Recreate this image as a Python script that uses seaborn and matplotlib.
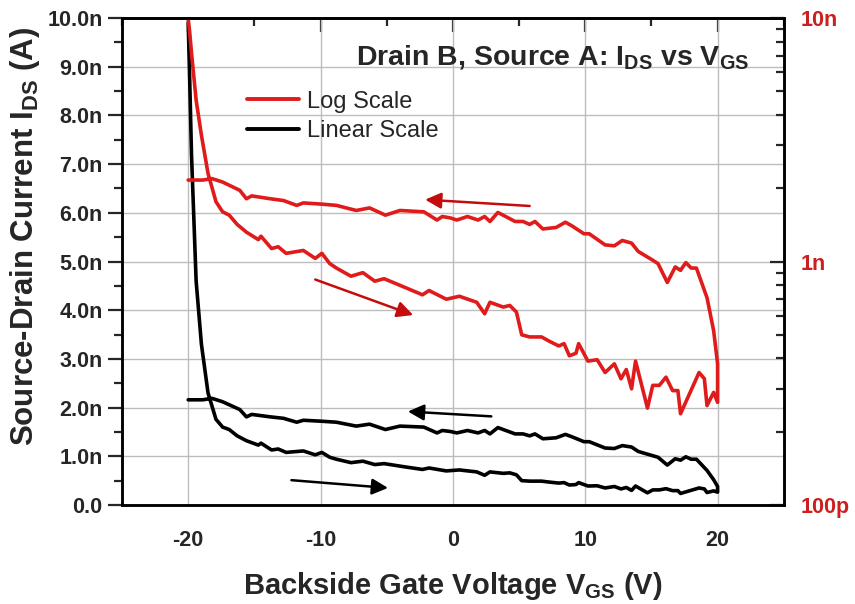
import numpy as np
import pandas as pd
import matplotlib
matplotlib.use("Agg")
import matplotlib.pyplot as plt
import matplotlib.ticker as mticker
import seaborn as sns

# ---------------- data (gate sweep -20 V -> +20 V -> -20 V), current in nA ----------------
v_forward = [-20.0, -19.9, -19.75, -19.4, -19.0, -18.5, -17.9, -17.4, -16.9, -16.3, -15.6,
             -14.7, -14.5, -13.7, -13.2, -12.6, -11.3, -10.4, -9.9, -9.3, -8.8, -7.7, -6.8,
             -5.9, -5.2, -3.8, -2.3, -1.8, -0.5, 0.5, 0.8, 1.8, 2.4, 2.8, 3.8, 4.3, 4.8, 5.2,
             5.8, 6.7, 7.3, 8.0, 8.4, 8.8, 9.3, 9.5, 10.2, 10.9, 11.5, 12.2, 12.7, 13.1, 13.5,
             13.8, 14.7, 15.1, 15.6, 16.1, 16.6, 17.0, 17.2, 18.6, 19.0, 19.2, 19.7, 20.0]
i_forward = [9.9, 8.9, 7.2, 4.6, 3.3, 2.3, 1.76, 1.60, 1.55, 1.42, 1.32,
             1.23, 1.27, 1.13, 1.15, 1.08, 1.11, 1.03, 1.08, 0.98, 0.94, 0.87, 0.90,
             0.83, 0.85, 0.79, 0.73, 0.76, 0.70, 0.72, 0.71, 0.68, 0.61, 0.68, 0.65, 0.66, 0.62, 0.50,
             0.49, 0.49, 0.47, 0.45, 0.46, 0.41, 0.42, 0.46, 0.39, 0.395, 0.35, 0.38, 0.33, 0.36, 0.30,
             0.39, 0.25, 0.31, 0.31, 0.335, 0.295, 0.295, 0.237, 0.35, 0.33, 0.256, 0.29, 0.264]
v_reverse = [20.0, 19.7, 19.2, 18.4, 18.0, 17.6, 17.2, 16.8, 16.2, 15.5, 15.0, 14.0, 13.5,
             12.8, 12.2, 11.5, 10.3, 9.9, 9.0, 8.5, 7.8, 6.8, 6.2, 5.8, 5.3, 4.7, 3.4, 2.8,
             2.4, 1.9, 1.1, 0.3, -0.2, -0.8, -1.2, -2.2, -4.0, -5.1, -6.3, -7.3, -8.8, -9.9,
             -11.3, -11.8, -12.8, -13.8, -15.2, -15.6, -16.1, -17.4, -18.2, -18.9, -20.0]
i_reverse = [0.38, 0.52, 0.71, 0.94, 0.94, 0.99, 0.92, 0.95, 0.82, 0.98, 1.02, 1.10, 1.19,
             1.22, 1.16, 1.17, 1.30, 1.30, 1.40, 1.45, 1.38, 1.36, 1.46, 1.42, 1.46, 1.46, 1.59, 1.46,
             1.53, 1.48, 1.53, 1.48, 1.51, 1.53, 1.48, 1.60, 1.62, 1.55, 1.66, 1.62, 1.70, 1.72,
             1.74, 1.70, 1.78, 1.81, 1.86, 1.81, 1.96, 2.12, 2.19, 2.16, 2.16]

series_labels = ["Log Scale", "Linear Scale"]
title_text = r"Drain B, Source A: I$_{\mathbf{DS}}$ vs V$_{\mathbf{GS}}$"
x_label = r"Backside Gate Voltage V$_{\mathbf{GS}}$ (V)"
y_label = r"Source-Drain Current I$_{\mathbf{DS}}$ (A)"
right_ticks = [1e-10, 1e-9, 1e-8]
right_tick_labels = ["100p", "1n", "10n"]

# sweep-direction arrows: (x_tail, y_tail_nA, x_head, y_head_nA, colour)
sweep_arrows = [(5.8, 6.14, -2.1, 6.27, "red"),
                (-10.4, 4.63, -3.0, 3.90, "red"),
                (2.9, 1.82, -3.4, 1.92, "black"),
                (-12.2, 0.51, -4.9, 0.35, "black")]

df = pd.DataFrame({
    "V": v_forward + v_reverse,
    "I": np.array(i_forward + i_reverse) * 1e-9,
    "step": np.arange(len(v_forward) + len(v_reverse)),
})

# ---------------- style ----------------
sns.set_style("white")
plt.rcParams["font.family"] = ["Liberation Sans", "DejaVu Sans"]
plt.rcParams["font.weight"] = "bold"
plt.rcParams["axes.unicode_minus"] = False
plt.rcParams["mathtext.fontset"] = "custom"
plt.rcParams["mathtext.rm"] = "Liberation Sans"
plt.rcParams["mathtext.bf"] = "Liberation Sans:bold"
plt.rcParams["mathtext.it"] = "Liberation Sans:italic"

RED = "#E01B1B"
RED_TXT = "#CC2020"
ARROW_RED = "#C40C0C"

fig = plt.figure(figsize=(8.55, 6.04), dpi=100)
ax = fig.add_axes([0.1427, 0.1639, 0.774, 0.8063])
ax2 = ax.twinx()

sns.lineplot(data=df, x="V", y="I", sort=False, estimator=None, ax=ax,
             color="black", lw=2.6, label=series_labels[1], legend=False)
sns.lineplot(data=df, x="V", y="I", sort=False, estimator=None, ax=ax2,
             color=RED, lw=2.6, label=series_labels[0], legend=False)

# left linear axis
ax.set_xlim(-25, 25)
ax.set_ylim(0, 10e-9)
ax.yaxis.set_major_locator(mticker.MultipleLocator(1e-9))
ax.yaxis.set_minor_locator(mticker.MultipleLocator(0.5e-9))
ax.yaxis.set_major_formatter(mticker.FuncFormatter(lambda v, p: f"{v*1e9:.1f}n" if v > 1e-12 else "0.0"))
ax.xaxis.set_major_locator(mticker.MultipleLocator(10))
ax.xaxis.set_minor_locator(mticker.MultipleLocator(5))
ax.tick_params(axis="y", which="major", direction="out", length=10, width=1.6,
               labelsize=15.5, pad=4, right=False)
ax.tick_params(axis="y", which="minor", direction="out", length=6, width=1.6, right=False)
ax.tick_params(axis="x", which="major", direction="out", length=10, width=1.6,
               labelsize=15.5, pad=8, top=False)
ax.tick_params(axis="x", which="minor", direction="out", length=6, width=1.6, top=False)
for lbl in ax.get_xticklabels() + ax.get_yticklabels():
    lbl.set_fontweight("bold")
ax.grid(True, which="major", color="#BDBDBD", lw=1.0)
ax.set_axisbelow(True)

# top inward ticks via secondary axis
top = ax.secondary_xaxis("top")
top.xaxis.set_major_locator(mticker.MultipleLocator(10))
top.xaxis.set_minor_locator(mticker.MultipleLocator(5))
top.tick_params(axis="x", which="major", direction="in", length=10, width=1.6, labeltop=False)
top.tick_params(axis="x", which="minor", direction="in", length=6, width=1.6)
top.spines["top"].set_linewidth(1.8)

# right log axis
ax2.set_yscale("log")
ax2.set_ylim(1e-10, 1e-8)
ax2.set_yticks(right_ticks)
ax2.set_yticklabels(right_tick_labels)
ax2.yaxis.set_minor_locator(mticker.LogLocator(base=10, subs=np.arange(2, 10)))
ax2.yaxis.set_minor_formatter(mticker.NullFormatter())
ax2.tick_params(axis="y", which="major", direction="in", length=10, width=1.6,
                labelsize=15.5, labelcolor=RED_TXT, pad=12)
ax2.tick_params(axis="y", which="minor", direction="in", length=6, width=1.6)
for lbl in ax2.get_yticklabels():
    lbl.set_fontweight("bold")
ax2.set_ylabel("")

for a in (ax, ax2):
    for s in a.spines.values():
        s.set_linewidth(1.8)
        s.set_color("black")

ax.set_xlabel(x_label, fontsize=21, fontweight="bold", labelpad=14)
ax.set_ylabel(y_label, fontsize=22.5, fontweight="bold", labelpad=8)
ax.yaxis.set_label_coords(-0.121, 0.552)

# title inside
ax2.text(0.948, 0.905, title_text, transform=ax.transAxes, ha="right", va="baseline",
         fontsize=20.5, fontweight="bold")

# arrows
for x0, y0, x1, y1, c in sweep_arrows:
    col = ARROW_RED if c == "red" else "black"
    ax2.annotate("", xy=(x1, y1 * 1e-9), xytext=(x0, y0 * 1e-9),
                 xycoords=ax.transData, textcoords=ax.transData,
                 arrowprops=dict(arrowstyle="-|>", color=col, lw=1.8, mutation_scale=24,
                                 shrinkA=0, shrinkB=0))

# legend
h1, l1 = ax2.get_legend_handles_labels()
h0, l0 = ax.get_legend_handles_labels()
leg = ax2.legend(h1 + h0, l1 + l0, loc="upper left", bbox_to_anchor=(0.175, 0.87),
                 frameon=False, fontsize=17, handlelength=2.2, handletextpad=0.35,
                 labelspacing=0.3, borderaxespad=0)
for t in leg.get_texts():
    t.set_fontweight("normal")
for ln in leg.get_lines():
    ln.set_linewidth(2.8)

fig.savefig("out.png", dpi=100)
